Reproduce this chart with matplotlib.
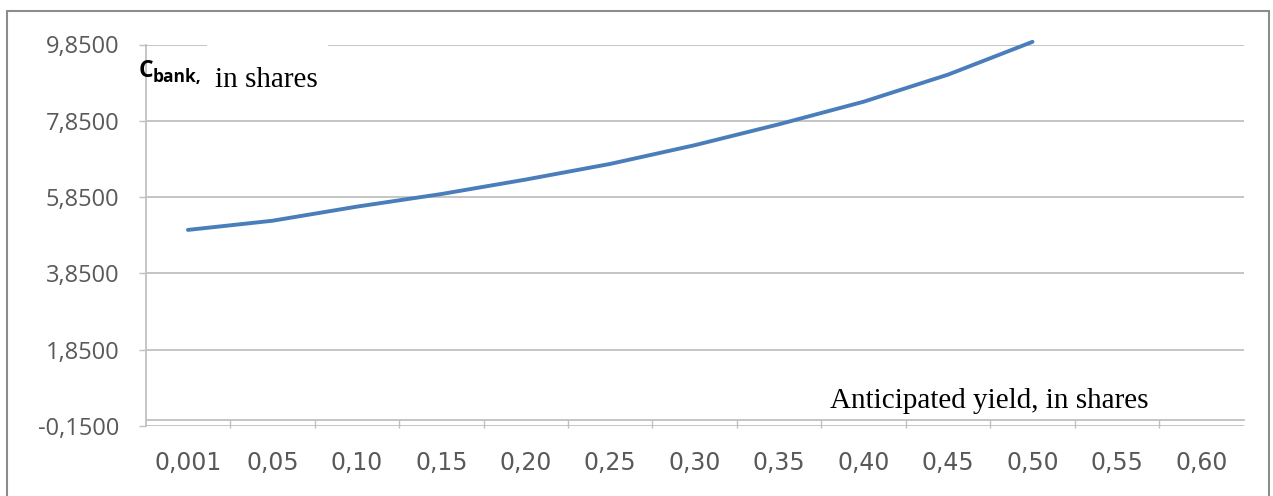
import matplotlib.pyplot as plt
import numpy as np
from matplotlib.patches import Rectangle
from matplotlib.ticker import FixedLocator, FuncFormatter, NullFormatter

# categories on the x axis (anticipated yield)
yield_labels = ['0,001', '0,05', '0,10', '0,15', '0,20', '0,25', '0,30',
                '0,35', '0,40', '0,45', '0,50', '0,55', '0,60']
# C_bank values (no data for 0,55 and 0,60)
c_bank = [4.99, 5.23, 5.60, 5.93, 6.31, 6.72, 7.21, 7.76, 8.35, 9.06, 9.92,
          np.nan, np.nan]
y_ticks = [-0.15, 1.85, 3.85, 5.85, 7.85, 9.85]

W, H = 1273, 496
fig = plt.figure(figsize=(W / 100, H / 100), dpi=100)
ax = fig.add_axes([145.7 / W, 1 - 426 / H, (1243.6 - 145.7) / W, (426 - 44.5) / H])

grid_c = '#c0c0c0'
tick_c = '#595959'
x = np.arange(len(yield_labels))

ax.plot(x, c_bank, color='#4a7ebb', linewidth=2.8, solid_capstyle='round',
        clip_on=False, zorder=3)

ax.set_xlim(-0.5, len(yield_labels) - 0.5)
ax.set_ylim(y_ticks[0], y_ticks[-1])

# y axis
ax.yaxis.set_major_locator(FixedLocator(y_ticks))
ax.yaxis.set_major_formatter(FuncFormatter(lambda v, p: f'{v:.4f}'.replace('.', ',')))
ax.grid(axis='y', color=grid_c, linewidth=1.3)
ax.tick_params(axis='y', length=5, width=1, color=grid_c, pad=14,
               labelsize=17, labelcolor=tick_c)

# x axis: ticks between categories, labels at centers
ax.xaxis.set_major_locator(FixedLocator(x[:-1] + 0.5))
ax.xaxis.set_major_formatter(NullFormatter())
ax.xaxis.set_minor_locator(FixedLocator(x))
ax.xaxis.set_minor_formatter(FuncFormatter(lambda v, p: yield_labels[int(round(v))]))
ax.tick_params(axis='x', which='major', length=6, width=1, color=grid_c)
ax.tick_params(axis='x', which='minor', length=0, pad=22,
               labelsize=17, labelcolor=tick_c)

for lab in ax.get_xticklabels(minor=True) + ax.get_yticklabels():
    lab.set_family('Open Sans')

for side in ['top', 'right']:
    ax.spines[side].set_visible(False)
ax.spines['left'].set_color(grid_c)
ax.spines['left'].set_linewidth(1.3)
ax.spines['bottom'].set_color(grid_c)
ax.spines['bottom'].set_linewidth(1.3)
ax.spines['bottom'].set_position(('data', 0))

# white box behind the y-axis caption
fig.patches.append(Rectangle((207 / W, 1 - 95 / H), 121 / W, 50 / H,
                             transform=fig.transFigure, facecolor='white',
                             edgecolor='none', zorder=2))

fig.text(139 / W, 1 - 77 / H, 'C', family='Open Sans', fontweight='bold',
         fontsize=16.5, va='baseline', zorder=4)
fig.text(153 / W, 1 - 82 / H, 'bank,', family='Open Sans', fontweight='bold',
         fontsize=12.5, va='baseline', zorder=4)
fig.text(215 / W, 1 - 87 / H, 'in shares', family='Liberation Serif',
         fontsize=21, va='baseline', zorder=4)
fig.text(830 / W, 1 - 407.6 / H, 'Anticipated yield, in shares',
         family='Liberation Serif', fontsize=21, va='baseline', zorder=4)

# outer chart frame
fig.patches.append(Rectangle((7 / W, -0.05), 1262 / W, 1.05 - 11 / H,
                             transform=fig.transFigure, facecolor='none',
                             edgecolor='#8c8c8c', linewidth=1.5, zorder=5))

fig.savefig('out.png', dpi=100)
